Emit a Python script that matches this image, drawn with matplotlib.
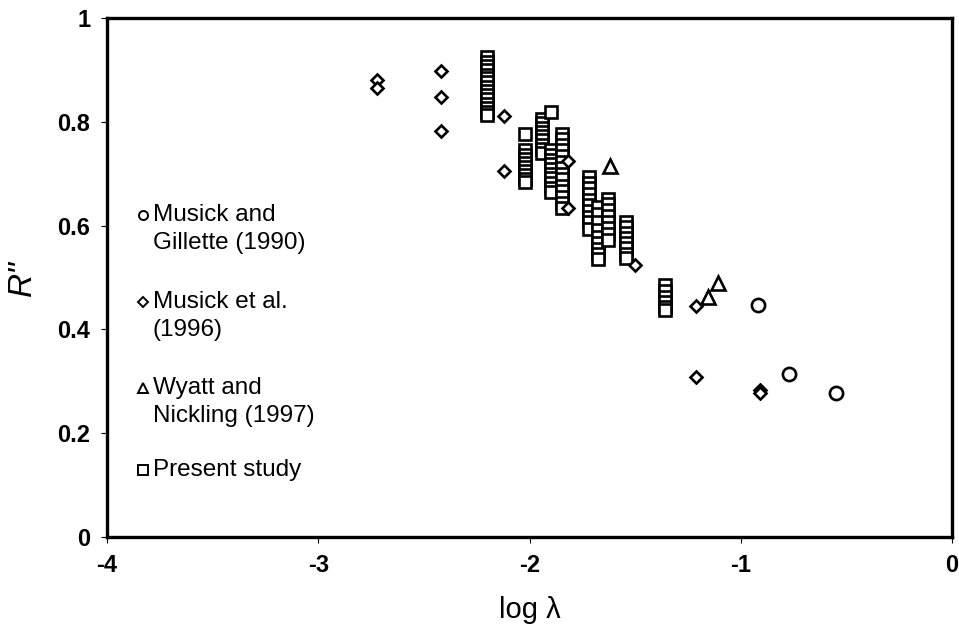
import matplotlib
matplotlib.use("Agg")
import matplotlib.pyplot as plt

plt.rcParams['font.family'] = ['Liberation Sans', 'DejaVu Sans']

# Musick and Gillette (1990)
mg_x = [-0.92, -0.77, -0.55]
mg_y = [0.447, 0.315, 0.277]

# Musick et al. (1996)
me_x = [-2.72, -2.72, -2.42, -2.42, -2.42, -2.12, -2.12, -1.82, -1.82,
        -1.50, -1.21, -1.21, -0.91, -0.91]
me_y = [0.880, 0.866, 0.897, 0.847, 0.783, 0.812, 0.706, 0.724, 0.634,
        0.524, 0.445, 0.308, 0.283, 0.277]

# Wyatt and Nickling (1997)
wn_x = [-1.62, -1.155, -1.11]
wn_y = [0.714, 0.462, 0.490]

# Present study: columns of points sharing one log lambda value
ps_cols = {
    -2.20: [0.925, 0.916, 0.907, 0.899, 0.891, 0.884, 0.876, 0.867, 0.859,
            0.851, 0.843, 0.835, 0.827, 0.819, 0.813],
    -2.02: [0.777, 0.745, 0.736, 0.728, 0.720, 0.712, 0.705, 0.697, 0.690, 0.684],
    -1.94: [0.806, 0.797, 0.789, 0.780, 0.772, 0.764, 0.756, 0.747, 0.739],
    -1.90: [0.818, 0.745, 0.736, 0.727, 0.718, 0.709, 0.700, 0.691, 0.682,
            0.673, 0.665],
    -1.845: [0.777, 0.767, 0.756, 0.745, 0.734, 0.722, 0.711, 0.700, 0.689,
             0.677, 0.666, 0.655, 0.643, 0.633],
    -1.72: [0.694, 0.683, 0.672, 0.661, 0.650, 0.639, 0.628, 0.617, 0.606, 0.594],
    -1.675: [0.636, 0.622, 0.606, 0.592, 0.578, 0.566, 0.555, 0.545, 0.535],
    -1.63: [0.652, 0.641, 0.630, 0.619, 0.607, 0.596, 0.584, 0.572],
    -1.545: [0.607, 0.597, 0.586, 0.576, 0.566, 0.556, 0.546, 0.537],
    -1.36: [0.485, 0.474, 0.463, 0.453, 0.444, 0.437],
}
ps_x = [x for x, ys in ps_cols.items() for _ in ys]
ps_y = [y for ys in ps_cols.values() for y in ys]

legend_labels = [("Musick and", "Gillette (1990)"), ("Musick et al.", "(1996)"),
                 ("Wyatt and", "Nickling (1997)"), ("Present study", "")]

fig = plt.figure(figsize=(9.59, 6.32), dpi=100)
ax = fig.add_axes([0.1116, 0.1503, 0.8811, 0.8212])

mk = dict(linestyle='none', markerfacecolor='white', markeredgecolor='black',
          markeredgewidth=1.9)
ax.plot(ps_x, ps_y, marker='s', markersize=8.2, **mk)
ax.plot(me_x, me_y, marker='D', markersize=6.2, **mk)
ax.plot(wn_x, wn_y, marker='^', markersize=10, **mk)
ax.plot(mg_x, mg_y, marker='o', markersize=9.5, **mk)

ax.set_xlim(-4, 0)
ax.set_ylim(0, 1)
ax.set_xticks([-4, -3, -2, -1, 0])
ax.set_yticks([0, 0.2, 0.4, 0.6, 0.8, 1])
ax.set_xticklabels(['-4', '-3', '-2', '-1', '0'], fontweight='bold')
ax.set_yticklabels(['0', '0.2', '0.4', '0.6', '0.8', '1'], fontweight='bold')
ax.tick_params(direction='out', length=4, width=0.8, labelsize=17, pad=8)
for s in ax.spines.values():
    s.set_linewidth(2.4)

ax.set_xlabel('log λ', fontsize=21, labelpad=14)
ax.set_ylabel('R"', fontsize=24, style='italic', labelpad=14)

# key drawn inside the plot area
key_markers = [('o', 6.5), ('D', 4.6), ('^', 7), ('s', 6.5)]
key_y = [0.620, 0.453, 0.287, 0.129]
line_gap = 28 / 519
for (m, ms), yk, (l1, l2) in zip(key_markers, key_y, legend_labels):
    ax.plot([0.0426], [yk], transform=ax.transAxes, marker=m, markersize=ms,
            linestyle='none', markerfacecolor='white', markeredgecolor='black',
            markeredgewidth=1.4, clip_on=False)
    ax.text(0.0544, yk, l1, transform=ax.transAxes, fontsize=17.5,
            va='center', ha='left')
    if l2:
        ax.text(0.0544, yk - line_gap, l2, transform=ax.transAxes,
                fontsize=17.5, va='center', ha='left')

fig.savefig('out.png', dpi=100)
